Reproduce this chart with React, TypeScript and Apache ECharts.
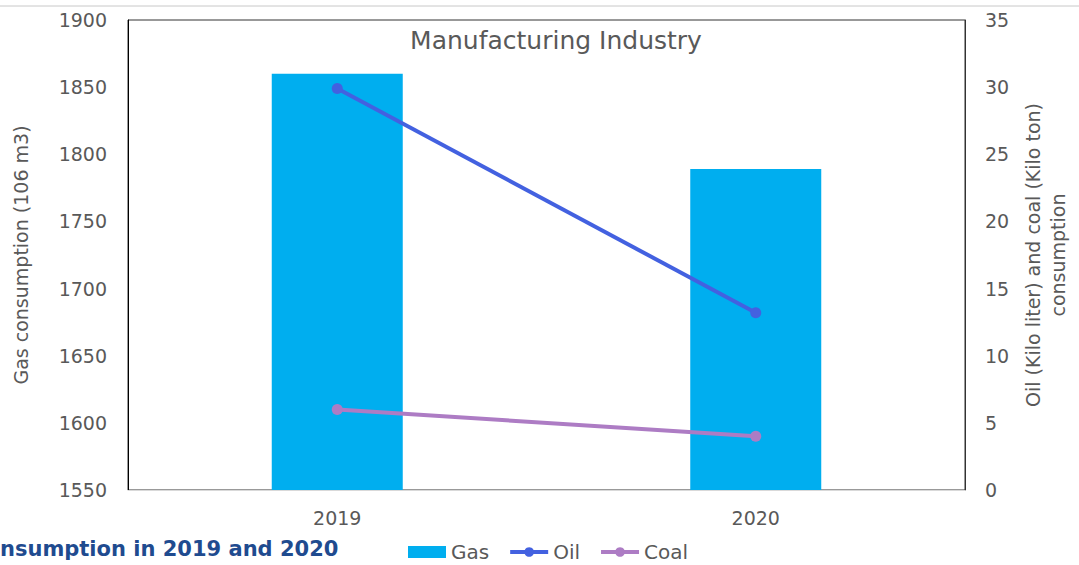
import React, { useEffect, useRef } from "react";
import * as echarts from "echarts";

const categories = ["2019", "2020"];
const gasValues = [1860, 1789];
const oilValues = [29.9, 13.2];
const coalValues = [6, 4];
const leftTicks = { min: 1550, max: 1900, interval: 50 };
const rightTicks = { min: 0, max: 35, interval: 5 };

const FONT = "DejaVu Sans";
const GREY = "#595959";

export default function App() {
  const ref = useRef<HTMLDivElement>(null);
  useEffect(() => {
    document.body.style.margin = "0";
    const chart = echarts.init(ref.current!, null, { renderer: "svg" });
    chart.setOption({
      animation: false,
      textStyle: { fontFamily: FONT },
      title: {
        text: "Manufacturing Industry",
        left: 551,
        top: 23,
        textAlign: "center",
        textStyle: { fontFamily: FONT, fontSize: 25, fontWeight: "normal", color: GREY },
      },
      legend: {
        left: 408,
        top: 542,
        padding: 0,
        itemWidth: 38,
        itemHeight: 12,
        itemGap: 19,
        textStyle: { fontFamily: FONT, fontSize: 20, color: GREY },
        data: [
          { name: "Gas", icon: "rect" },
          { name: "Oil", lineStyle: { width: 4 } },
          { name: "Coal", lineStyle: { width: 4 } },
        ],
      },
      grid: {
        left: 128,
        top: 20,
        right: 114,
        bottom: 75,
        containLabel: false,
        outerBoundsMode: "none",
        show: true,
        borderColor: "#333",
        borderWidth: 1,
        backgroundColor: "#fff",
      },
      xAxis: {
        type: "category",
        data: categories,
        axisTick: { show: false },
        axisLine: { lineStyle: { color: "#d9d9d9", width: 1 } },
        axisLabel: { fontFamily: FONT, fontSize: 19, color: GREY, margin: 18 },
      },
      yAxis: [
        {
          type: "value",
          min: leftTicks.min,
          max: leftTicks.max,
          interval: leftTicks.interval,
          name: "Gas consumption (106 m3)",
          nameLocation: "middle",
          nameGap: 98,
          nameRotate: 90,
          nameTextStyle: { fontFamily: FONT, fontSize: 19, color: GREY },
          splitLine: { show: false },
          axisTick: { show: false },
          axisLine: { show: true, lineStyle: { color: "#000" } },
          axisLabel: {
            fontFamily: FONT,
            fontSize: 19,
            color: GREY,
            margin: 21,
            formatter: (v: number) => String(v),
          },
        },
        {
          type: "value",
          min: rightTicks.min,
          max: rightTicks.max,
          interval: rightTicks.interval,
          name: "Oil (Kilo liter) and coal (Kilo ton)\nconsumption",
          nameLocation: "middle",
          nameGap: 55,
          nameRotate: 90,
          nameTextStyle: { fontFamily: FONT, fontSize: 19, color: GREY, lineHeight: 25 },
          splitLine: { show: false },
          axisTick: { show: false },
          axisLine: { show: true, lineStyle: { color: "#333" } },
          axisLabel: {
            fontFamily: FONT,
            fontSize: 19,
            color: GREY,
            margin: 20,
            formatter: (v: number) => String(v),
          },
        },
      ],
      graphic: [
        {
          type: "line",
          shape: { x1: 0, y1: 6, x2: 1079, y2: 6 },
          style: { stroke: "#c8c8c8", lineWidth: 1 },
        },
        {
          type: "text",
          x: 0,
          y: 549,
          style: {
            text: "nsumption in 2019 and 2020",
            fill: "#1f4b8f",
            font: `bold 21px ${FONT}`,
            textAlign: "left",
            textVerticalAlign: "middle",
          },
        },
      ],
      series: [
        {
          name: "Gas",
          type: "bar",
          data: gasValues,
          yAxisIndex: 0,
          barWidth: 131,
          itemStyle: { color: "#00aeef" },
        },
        {
          name: "Oil",
          type: "line",
          data: oilValues,
          yAxisIndex: 1,
          symbol: "circle",
          symbolSize: 11,
          lineStyle: { color: "#4361e0", width: 4 },
          itemStyle: { color: "#4361e0" },
        },
        {
          name: "Coal",
          type: "line",
          data: coalValues,
          yAxisIndex: 1,
          symbol: "circle",
          symbolSize: 11,
          lineStyle: { color: "#ad7cc4", width: 4 },
          itemStyle: { color: "#ad7cc4" },
        },
      ],
    });
    return () => chart.dispose();
  }, []);
  return <div ref={ref} style={{ width: 1079, height: 565 }} />;
}
